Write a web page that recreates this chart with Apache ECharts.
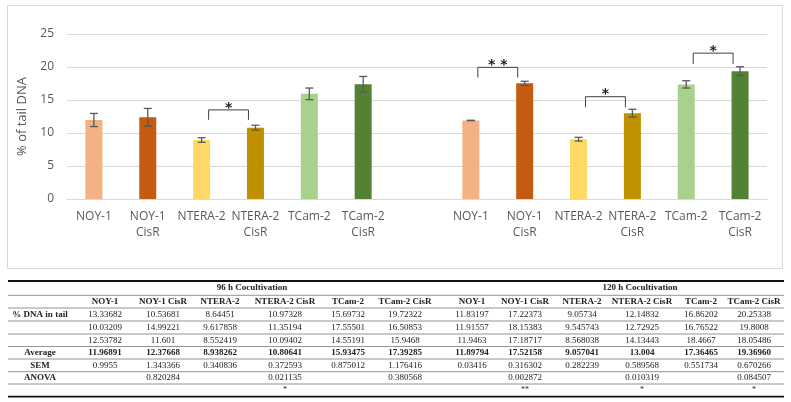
<!DOCTYPE html>
<html><head><meta charset="utf-8">
<script src="https://cdn.jsdelivr.net/npm/echarts@6/dist/echarts.min.js"></script>
<style>html,body{margin:0;padding:0;background:#fff}#c{width:791px;height:402px}</style>
</head><body><div id="c"></div>
<script>
// ---- chart data ----
const categories = ['NOY-1','NOY-1\nCisR','NTERA-2','NTERA-2\nCisR','TCam-2','TCam-2\nCisR','',
                    'NOY-1','NOY-1\nCisR','NTERA-2','NTERA-2\nCisR','TCam-2','TCam-2\nCisR'];
const means = [11.96891,12.37668,8.938262,10.80641,15.93475,17.39285,null,
               11.89794,17.52158,9.057041,13.004,17.36465,19.36960];
const sems  = [0.9955,1.343366,0.340836,0.372593,0.875012,1.176416,null,
               0.03416,0.316302,0.282239,0.589568,0.551734,0.670266];
const barColors = ['#F4B183','#C55A11','#FFD966','#BF9000','#A9D18E','#548235','#fff',
                   '#F4B183','#C55A11','#FFD966','#BF9000','#A9D18E','#548235'];
// [fromIndex, toIndex, bracketTop, legEnd, stars]
const brackets = [[2,3,13.5,12.0,'*'],[7,8,19.95,18.4,'**'],[9,10,15.5,13.9,'*'],[11,12,22.1,20.45,'*']];
const yTicks = {min:0, max:25, interval:5};

// ---- table data ----
const groupTitles = ['96 h Cocultivation','120 h Cocultivation'];
const colHeaders = ['NOY-1','NOY-1 CisR','NTERA-2','NTERA-2 CisR','TCam-2','TCam-2 CisR',
                    'NOY-1','NOY-1 CisR','NTERA-2','NTERA-2 CisR','TCam-2','TCam-2 CisR'];
const rowLabels = ['% DNA in tail','','','Average','SEM','ANOVA',''];
const rep1 = ['13.33682','10.53681','8.64451','10.97328','15.69732','19.72322','11.83197','17.22373','9.05734','12.14832','16.86202','20.25338'];
const rep2 = ['10.03209','14.99221','9.617858','11.35194','17.55501','16.50853','11.91557','18.15383','9.545743','12.72925','16.76522','19.8008'];
const rep3 = ['12.53782','11.601','8.552419','10.09402','14.55191','15.9468','11.9463','17.18717','8.568038','14.13443','18.4667','18.05486'];
const avgRow = ['11.96891','12.37668','8.938262','10.80641','15.93475','17.39285','11.89794','17.52158','9.057041','13.004','17.36465','19.36960'];
const semRow = ['0.9955','1.343366','0.340836','0.372593','0.875012','1.176416','0.03416','0.316302','0.282239','0.589568','0.551734','0.670266'];
const anovaRow = ['','0.820284','','0.021135','','0.380568','','0.002872','','0.010319','','0.084507'];
const starRow = ['','','','*','','','','**','','*','','*'];

// ---- layout ----
const colX = [40,105,163,220,285,348,405,472,525,582,642,701,754];
const groupX = [252,640];
const rowB = [281,295.3,308,321,334,346.5,359,371.7,384,396.7];
const tL = 8, tR = 784;

const chart = echarts.init(document.getElementById('c'), null, {renderer:'canvas'});

const gfx = [];
gfx.push({type:'rect', shape:{x:7.5,y:5.5,width:775,height:263}, style:{fill:'none',stroke:'#d9d9d9',lineWidth:1}, z:-1});
function hline(y,w,c){gfx.push({type:'line',shape:{x1:tL,y1:y,x2:tR,y2:y},style:{stroke:c,lineWidth:w}});}
hline(rowB[0],1.8,'#111');
for(let i=1;i<rowB.length-1;i++) hline(rowB[i],0.7,'#666');
hline(rowB[rowB.length-1],1.8,'#111');
function txt(s,x,y,bold,size){
  if(!s) return;
  gfx.push({type:'text',style:{text:s,x:x,y:y,align:'center',verticalAlign:'middle',
    font:(bold?'bold ':'')+(size||9)+'px "Liberation Serif", serif',fill:'#222'}});
}
const mid = i => (rowB[i]+rowB[i+1])/2;
txt(groupTitles[0],groupX[0],mid(0),true);
txt(groupTitles[1],groupX[1],mid(0),true);
colHeaders.forEach((h,i)=>txt(h,colX[i+1],mid(1),true));
const bodyRows = [rep1,rep2,rep3,avgRow,semRow,anovaRow,starRow];
bodyRows.forEach((row,r)=>{
  txt(rowLabels[r],colX[0],mid(r+2),true);
  row.forEach((v,i)=>txt(v,colX[i+1],mid(r+2),r===3, r===6?8:9));
});

const option = {
  animation:false,
  backgroundColor:'#fff',
  grid:{left:67,right:24,top:34,bottom:203,containLabel:false},
  xAxis:{type:'category',data:categories,
    axisLine:{show:true,lineStyle:{color:'#d9d9d9',width:1}},
    axisTick:{show:false},
    axisLabel:{interval:0,color:'#595959',fontSize:12,lineHeight:16,margin:10,fontFamily:'"Open Sans", sans-serif'}},
  yAxis:{type:'value',min:yTicks.min,max:yTicks.max,interval:yTicks.interval,
    name:'% of tail DNA',nameLocation:'middle',nameGap:38,
    nameTextStyle:{color:'#595959',fontSize:13,fontFamily:'"Open Sans", sans-serif'},
    axisLine:{show:false},axisTick:{show:false},
    axisLabel:{color:'#595959',fontSize:12,margin:13,fontFamily:'"Open Sans", sans-serif'},
    splitLine:{lineStyle:{color:'#d9d9d9',width:1}}},
  series:[
    {type:'bar',barWidth:17,
     data:means.map((v,i)=>({value:v,itemStyle:{color:barColors[i]}}))},
    {type:'custom',z:5,
     data:means.map((v,i)=>[i,v,sems[i]]).filter(d=>d[1]!=null),
     renderItem:function(params,api){
       const x=api.value(0), m=api.value(1), s=api.value(2);
       const top=api.coord([x,m+s]), bot=api.coord([x,m-s]);
       const cx=top[0], hw=4;
       const st={stroke:'#595959',lineWidth:1.3};
       return {type:'group',children:[
         {type:'line',shape:{x1:cx,y1:top[1],x2:cx,y2:bot[1]},style:st},
         {type:'line',shape:{x1:cx-hw,y1:top[1],x2:cx+hw,y2:top[1]},style:st},
         {type:'line',shape:{x1:cx-hw,y1:bot[1],x2:cx+hw,y2:bot[1]},style:st}]};
     }},
    {type:'custom',z:6,
     data:brackets,
     renderItem:function(params,api){
       const a=api.value(0), b=api.value(1), t=api.value(2), l=api.value(3);
       const pa=api.coord([a,t]), pb=api.coord([b,t]), la=api.coord([a,l]);
       const x1=pa[0]+7, x2=pb[0]-7, yt=pa[1], yl=la[1];
       const st={stroke:'#404040',lineWidth:1,fill:'none'};
       const s = brackets[params.dataIndex][4];
       return {type:'group',children:[
         {type:'polyline',shape:{points:[[x1,yl],[x1,yt],[x2,yt],[x2,yl]]},style:st},
         {type:'text',style:{text:s.split('').join(' '),x:(x1+x2)/2,y:yt+5,align:'center',verticalAlign:'bottom',
           font:'bold 14px "DejaVu Sans", sans-serif',fill:'#222'}}]};
     }}
  ],
  graphic:gfx
};
chart.setOption(option);
</script></body></html>
